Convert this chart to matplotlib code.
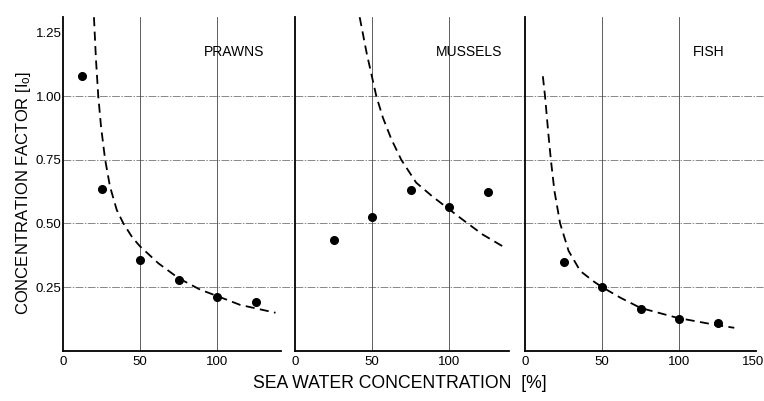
import matplotlib
matplotlib.use('Agg')
import matplotlib.pyplot as plt
import matplotlib.transforms as mtransforms

plt.rcParams['font.family'] = ['Liberation Sans', 'DejaVu Sans']

# measured points (sea water concentration %, concentration factor)
prawn_x = [12.5, 25, 50, 75, 100, 125]
prawn_y = [1.08, 0.635, 0.355, 0.278, 0.21, 0.192]
mussel_x = [25, 50, 75, 100, 125]
mussel_y = [0.434, 0.524, 0.631, 0.563, 0.624]
fish_x = [25, 50, 75, 100, 125]
fish_y = [0.349, 0.25, 0.165, 0.126, 0.108]

# dashed curves
prawn_cx = [20.1, 21.4, 22.9, 24.7, 27.3, 30.5, 34.9, 39.2, 45, 50, 62, 75, 89, 100, 115, 138]
prawn_cy = [1.31, 1.145, 1.0, 0.88, 0.753, 0.645, 0.553, 0.5, 0.445, 0.41, 0.343, 0.285, 0.24, 0.215, 0.18, 0.149]
mussel_cx = [42, 46.5, 52.8, 57.1, 62.5, 69, 78.7, 89.4, 99.1, 108.8, 121.7, 135.7]
mussel_cy = [1.31, 1.17, 1.0, 0.915, 0.832, 0.75, 0.66, 0.605, 0.56, 0.515, 0.457, 0.407]
fish_cx = [11.6, 13.0, 15.2, 16.8, 19.1, 22.8, 28.3, 35.9, 44.6, 50, 62, 75, 99, 125, 135.9]
fish_cy = [1.078, 1.0, 0.85, 0.75, 0.628, 0.5, 0.392, 0.313, 0.272, 0.25, 0.208, 0.168, 0.129, 0.10, 0.09]

panels = [
    ('PRAWNS', prawn_x, prawn_y, prawn_cx, prawn_cy, 111, 141.5),
    ('MUSSELS', mussel_x, mussel_y, mussel_cx, mussel_cy, 113, 139),
    ('FISH', fish_x, fish_y, fish_cx, fish_cy, 119.5, 152),
]
lefts = [63 / 764, 295 / 764, 525 / 764]

fig = plt.figure(figsize=(7.64, 4.01), dpi=100)

for i, (name, px, py, cx, cy, lx, xend) in enumerate(panels):
    ax = fig.add_axes([lefts[i], 50.3 / 401, 231 / 764, 333.5 / 401])
    ax.set_xlim(0, 150)
    ax.set_ylim(0, 1.31)
    ax.set_facecolor('none')

    for yv in [0.25, 0.5, 0.75, 1.0]:
        ax.axhline(yv, xmax=1.03 if i == 2 else 1, color='#888888', lw=0.7,
                   ls=(0, (8, 1.5, 1.5, 1.5)), zorder=1, clip_on=False)
    for xv in [50, 100, 150] if i == 2 else [50, 100]:
        ax.axvline(xv, color='#444444', lw=0.6, zorder=1)

    ax.plot(cx, cy, color='black', lw=1.3, ls=(0, (5, 3)), zorder=2)
    ax.plot(px, py, 'o', color='black', ms=5.5, zorder=3)
    ax.text(lx, 1.173, name, ha='center', va='center', fontsize=10)

    for s in ['top', 'right']:
        ax.spines[s].set_visible(False)
    ax.spines['left'].set_linewidth(1.3)
    ax.spines['bottom'].set_linewidth(1.3)
    ax.spines['bottom'].set_bounds(0, min(xend, 150))

    ax.set_xticks([0, 50, 100, 150] if i == 2 else [0, 50, 100])
    ax.tick_params(axis='x', length=0, pad=4, labelsize=9.5)
    if i == 0:
        ax.set_yticks([0.25, 0.5, 0.75, 1.0, 1.25])
        ax.set_yticklabels(['0.25', '0.50', '0.75', '1.00', '1.25'])
        ax.tick_params(axis='y', length=0, pad=1, labelsize=9.5)
    else:
        ax.set_yticks([])
    if i == 2:
        lab = ax.get_xticklabels()[-1]
        lab.set_transform(lab.get_transform() +
                          mtransforms.ScaledTranslation(-3 / 100, 0, fig.dpi_scale_trans))

fig.text(24 / 764, 1 - 192.5 / 401, r'CONCENTRATION FACTOR [$\mathregular{I_o}$]',
         rotation=90, ha='center', va='center', fontsize=12)
fig.text(400 / 764, 1 - 384 / 401, 'SEA WATER CONCENTRATION  [%]',
         ha='center', va='center', fontsize=12.7)

fig.savefig('out.png', dpi=100)
